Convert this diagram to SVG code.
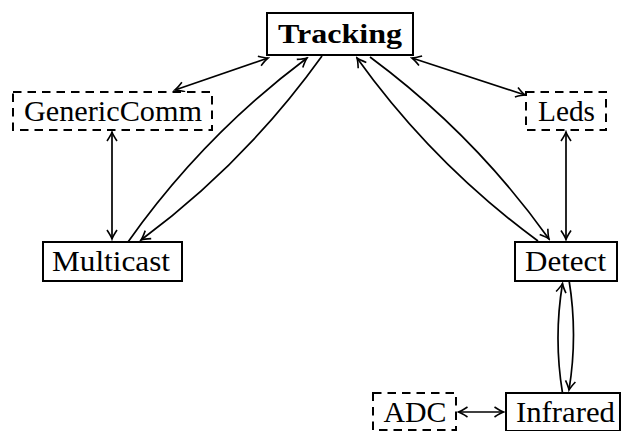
<svg xmlns="http://www.w3.org/2000/svg" width="621" height="431" viewBox="0 0 621 431">
<style>
.box{fill:#fff;stroke:#000;stroke-width:2}
.dash{fill:#fff;stroke:#000;stroke-width:2;stroke-dasharray:8.5 6}
.t{font-family:"Liberation Serif","Times New Roman",serif;font-size:29px;fill:#000;text-anchor:middle}
.b{font-weight:bold;font-size:27px}
.e{fill:none;stroke:#000;stroke-width:1.7}
</style>
<defs>
<marker id="a" viewBox="-12 -7 14 14" refX="0" refY="0" markerWidth="14" markerHeight="14" markerUnits="userSpaceOnUse" orient="auto-start-reverse">
<path d="M-9,-5 Q-3,-1 0,0 Q-3,1 -9,5" fill="none" stroke="#000" stroke-width="1.6"/>
</marker>
</defs>
<g id="edges">
<line class="e" x1="175" y1="90" x2="268" y2="58" marker-start="url(#a)" marker-end="url(#a)"/>
<line class="e" x1="412" y1="58" x2="525" y2="95" marker-start="url(#a)" marker-end="url(#a)"/>
<line class="e" x1="112" y1="132" x2="112" y2="239" marker-start="url(#a)" marker-end="url(#a)"/>
<line class="e" x1="566" y1="132" x2="566" y2="239.5" marker-start="url(#a)" marker-end="url(#a)"/>
<line class="e" x1="458.5" y1="412" x2="503.5" y2="412" marker-start="url(#a)" marker-end="url(#a)"/>
<path class="e" d="M128,242 Q203,136 307,58" marker-end="url(#a)"/>
<path class="e" d="M322,56 Q246,162 141,240" marker-end="url(#a)"/>
<path class="e" d="M538,241 Q433,164 357,58" marker-end="url(#a)"/>
<path class="e" d="M370,57 Q474,134 549,239" marker-end="url(#a)"/>
<path class="e" d="M562.5,393 Q553.5,338 562.5,283.5" marker-end="url(#a)"/>
<path class="e" d="M569,280 Q578,335 569,390" marker-end="url(#a)"/>
</g>
<g id="tracking"><rect class="box" x="267" y="13" width="146" height="42"/><text class="t b" font-family="Liberation Serif, serif" x="340" y="43" textLength="124" lengthAdjust="spacingAndGlyphs">Tracking</text></g>
<g id="genericcomm"><rect class="dash" x="13" y="92" width="199" height="38"/><text class="t" font-family="Liberation Serif, serif" x="113" y="121" textLength="178" lengthAdjust="spacingAndGlyphs">GenericComm</text></g>
<g id="leds"><rect class="dash" x="526" y="92" width="80" height="38"/><text class="t" font-family="Liberation Serif, serif" x="566.5" y="121" textLength="57" lengthAdjust="spacingAndGlyphs">Leds</text></g>
<g id="multicast"><rect class="box" x="43" y="242" width="139" height="39"/><text class="t" font-family="Liberation Serif, serif" x="111" y="271" textLength="118" lengthAdjust="spacingAndGlyphs">Multicast</text></g>
<g id="detect"><rect class="box" x="515" y="242" width="102" height="39"/><text class="t" font-family="Liberation Serif, serif" x="565.5" y="271" textLength="81" lengthAdjust="spacingAndGlyphs">Detect</text></g>
<g id="adc"><rect class="dash" x="373" y="393" width="83" height="37"/><text class="t" font-family="Liberation Serif, serif" x="415" y="422" textLength="63" lengthAdjust="spacingAndGlyphs">ADC</text></g>
<g id="infrared"><rect class="box" x="506" y="393" width="114" height="38"/><text class="t" font-family="Liberation Serif, serif" x="565.5" y="422" textLength="99" lengthAdjust="spacingAndGlyphs">Infrared</text></g>
</svg>
